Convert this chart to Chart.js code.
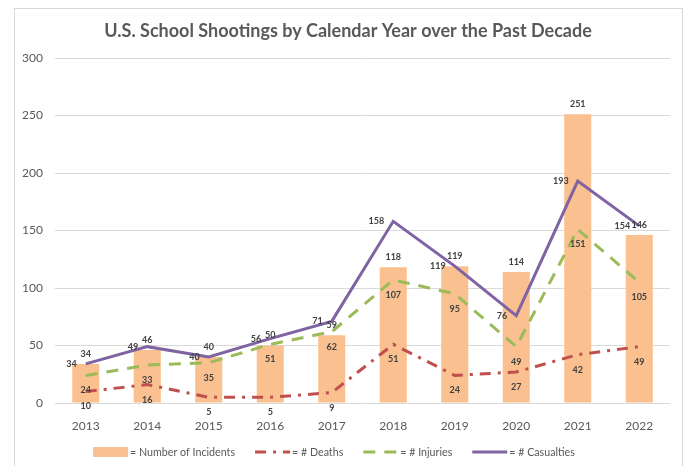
<!DOCTYPE html>
<html><head><meta charset="utf-8">
<script src="https://cdn.jsdelivr.net/npm/chart.js@4/dist/chart.umd.min.js"></script>
<style>html,body{margin:0;padding:0;background:#fff;overflow:hidden}</style>
</head><body>
<canvas id="c" width="687" height="466"></canvas>
<script>
const years = ['2013','2014','2015','2016','2017','2018','2019','2020','2021','2022'];
const incidents = [34, 46, 40, 50, 59, 118, 119, 114, 251, 146];
const deaths = [10, 16, 5, 5, 9, 51, 24, 27, 42, 49];
const injuries = [24, 33, 35, 51, 62, 107, 95, 49, 151, 105];
const casualties = [34, 49, 40, 56, 71, 158, 119, 76, 193, 154];
const yTicks = [0, 50, 100, 150, 200, 250, 300];
const titleText = 'U.S. School Shootings by Calendar Year over the Past Decade';
const legendLabels = ['= Number of Incidents', '= # Deaths', '= # Injuries', '= # Casualties'];

const FONT = 'Lato, "Open Sans", sans-serif';
const TEXT = '#595959';

const framePlugin = {
  id: 'frame',
  beforeDraw(chart) {
    const c = chart.ctx;
    c.save();
    c.fillStyle = '#fff';
    c.fillRect(0, 0, chart.width, chart.height);
    c.strokeStyle = '#D9D9D9';
    c.lineWidth = 1;
    c.strokeRect(14.5, 8.5, 668, 480);
    c.restore();
  },
  afterDraw(chart) {
    const c = chart.ctx;
    c.save();
    // title
    c.fillStyle = TEXT;
    c.font = 'bold 18px ' + FONT;
    c.textAlign = 'center';
    c.textBaseline = 'middle';
    c.fillText(titleText, 348, 31);
    // legend
    c.font = '10.7px ' + FONT;
    c.textAlign = 'left';
    const sw = 35, g1 = 2, g2 = 20;
    const widths = legendLabels.map(t => c.measureText(t).width);
    const total = widths.reduce((a, w) => a + sw + g1 + w, 0) + g2 * (legendLabels.length - 1);
    let x = 334 - total / 2;
    const y = 452;
    const ds = chart.data.datasets;
    const order = [3, 2, 1, 0];
    legendLabels.forEach((t, i) => {
      const d = ds[order[i]];
      if (d.type === 'bar') {
        c.fillStyle = d.backgroundColor;
        c.fillRect(x, y - 5, sw, 10);
      } else {
        c.strokeStyle = d.borderColor;
        c.lineWidth = d.borderWidth;
        c.setLineDash(d.borderDash || []);
        c.beginPath();
        c.moveTo(x, y);
        c.lineTo(x + sw, y);
        c.stroke();
        c.setLineDash([]);
      }
      c.fillStyle = TEXT;
      c.fillText(t, x + sw + g1, y + 1);
      x += sw + g1 + widths[i] + g2;
    });
    c.restore();
  }
};

const labelPlugin = {
  id: 'valueLabels',
  afterDatasetsDraw(chart) {
    const c = chart.ctx;
    c.save();
    c.font = 'bold 9px ' + FONT;
    c.fillStyle = '#404040';
    c.textBaseline = 'middle';
    chart.data.datasets.forEach((d, i) => {
      const meta = chart.getDatasetMeta(i);
      meta.data.forEach((el, j) => {
        const v = d.data[j];
        let x = el.x, y = el.y;
        if (d.labelPos === 'top') { c.textAlign = 'center'; y -= 10; }
        else if (d.labelPos === 'left') { c.textAlign = 'right'; x -= 9; }
        else { c.textAlign = 'center'; y += 15; }
        c.fillText(String(v), x, y);
      });
    });
    c.restore();
  }
};

new Chart(document.getElementById('c'), {
  type: 'bar',
  data: {
    labels: years,
    datasets: [
      { type: 'line', label: 'Casualties', data: casualties, borderColor: '#7F63A2', borderWidth: 3, pointRadius: 0, tension: 0, order: 1, labelPos: 'left' },
      { type: 'line', label: 'Injuries', data: injuries, borderColor: '#9BBB59', borderWidth: 3, borderDash: [12, 9], pointRadius: 0, tension: 0, order: 2, labelPos: 'below' },
      { type: 'line', label: 'Deaths', data: deaths, borderColor: '#C0504D', borderWidth: 3, borderDash: [11, 7, 3, 7], pointRadius: 0, tension: 0, order: 3, labelPos: 'below' },
      { type: 'bar', label: 'Incidents', data: incidents, backgroundColor: '#FAC090', barPercentage: 0.44, categoryPercentage: 1, order: 10, labelPos: 'top' }
    ]
  },
  options: {
    responsive: false,
    animation: false,
    devicePixelRatio: 1,
    layout: { padding: { top: 58, right: 17, bottom: 33, left: 0 } },
    plugins: { legend: { display: false }, title: { display: false }, tooltip: { enabled: false } },
    scales: {
      x: {
        grid: { display: false },
        border: { display: false },
        ticks: { color: TEXT, font: { family: FONT, size: 12 }, padding: 8, maxRotation: 0 },
        afterFit(s) { s.height = 30; }
      },
      y: {
        min: 0, max: 300,
        grid: { color: '#D9D9D9', drawTicks: false },
        border: { display: false },
        ticks: { color: TEXT, font: { family: FONT, size: 12 }, padding: 12 },
        afterBuildTicks(s) { s.ticks = yTicks.map(v => ({ value: v })); },
        afterFit(s) { s.width = 55; }
      }
    }
  },
  plugins: [framePlugin, labelPlugin]
});
</script>
</body></html>
